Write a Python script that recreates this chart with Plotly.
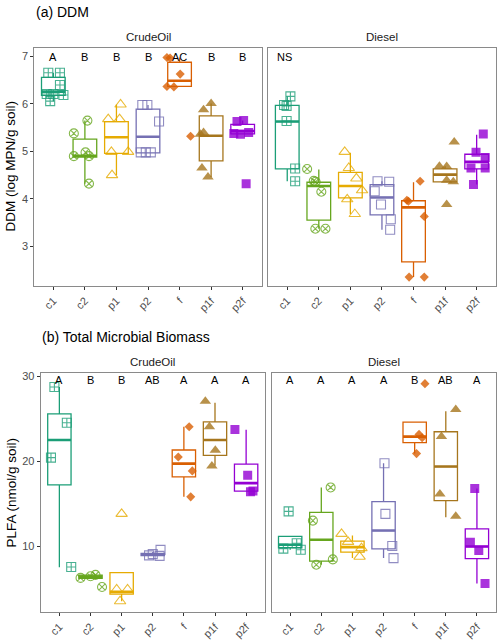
import plotly.graph_objects as go

categories = ["c1", "c2", "p1", "p2", "f", "p1f", "p2f"]

# ---- (a) DDM, CrudeOil: points and box stats [lower whisker, q1, median, q3, upper whisker]
ddm_crude_pts = [
    [6.66, 6.66, 6.40, 6.21, 6.21, 6.19, 6.06],
    [5.65, 5.38, 4.98, 4.90, 4.90, 4.32],
    [5.99, 5.68, 5.68, 4.99, 4.99, 4.50],
    [5.98, 5.98, 5.63, 4.98, 4.98, 4.98],
    [6.98, 6.97, 6.63, 6.37, 6.36, 5.32],
    [6.01, 5.88, 5.40, 5.36, 4.65, 4.46],
    [5.65, 5.63, 5.40, 5.38, 5.36, 4.32],
]
ddm_crude_box = [
    [6.06, 6.18, 6.26, 6.56, 6.66],
    [4.32, 4.88, 4.91, 5.26, 5.65],
    [4.50, 4.96, 5.30, 5.63, 5.99],
    [4.97, 4.97, 5.31, 5.89, 5.98],
    [6.36, 6.37, 6.49, 6.88, 6.98],
    [4.46, 4.80, 5.33, 5.75, 6.01],
    [5.36, 5.37, 5.43, 5.57, 5.65],
]
ddm_crude_letters = ["A", "B", "B", "B", "AC", "B", "B"]

# ---- (a) DDM, Diesel
ddm_diesel_pts = [
    [6.16, 5.98, 5.96, 5.64, 4.64, 4.37],
    [4.63, 4.38, 4.36, 4.15, 3.37, 3.37],
    [4.99, 4.65, 4.43, 4.18, 3.99, 3.68],
    [4.37, 4.36, 4.16, 3.88, 3.57, 3.35],
    [4.37, 3.97, 3.95, 3.63, 2.35, 2.35],
    [5.20, 4.69, 4.68, 4.39, 4.36, 3.88],
    [5.37, 4.98, 4.87, 4.65, 4.65, 4.30],
]
ddm_diesel_box = [
    [4.37, 4.63, 5.63, 5.97, 6.16],
    [3.37, 3.55, 4.27, 4.35, 4.62],
    [3.68, 4.02, 4.27, 4.56, 4.97],
    [3.35, 3.66, 4.03, 4.30, 4.37],
    [2.35, 2.67, 3.82, 3.96, 4.35],
    [4.36, 4.36, 4.51, 4.63, 4.69],
    [4.30, 4.63, 4.78, 4.94, 5.35],
]
ddm_diesel_note = "NS"

# ---- (b) Total Microbial Biomass (PLFA), CrudeOil
plfa_crude_pts = [
    [28.75, 24.53, 20.42, 7.53],
    [6.60, 6.45, 6.25, 5.18],
    [13.80, 4.88, 4.88, 3.50],
    [9.55, 9.05, 8.90, 8.85],
    [24.06, 20.50, 18.86, 15.80],
    [27.07, 24.06, 21.30, 19.45],
    [23.75, 18.36, 16.40, 16.50],
]
plfa_crude_box = [
    [7.50, 17.22, 22.50, 25.58, 28.75],
    [6.15, 6.20, 6.40, 6.58, 6.62],
    [3.50, 4.33, 4.60, 6.87, 6.87],
    [8.85, 8.88, 9.00, 9.15, 9.30],
    [15.80, 18.16, 19.72, 21.32, 24.06],
    [19.50, 20.70, 22.50, 24.64, 26.90],
    [16.40, 16.48, 17.42, 19.65, 23.70],
]
plfa_crude_letters = ["A", "B", "B", "AB", "A", "A", "A"]

# ---- (b) PLFA, Diesel
plfa_diesel_pts = [
    [14.09, 10.34, 9.70, 9.57],
    [16.91, 13.00, 7.80, 8.43],
    [11.44, 10.50, 9.76, 8.75],
    [19.76, 13.79, 10.00, 8.58],
    [29.14, 23.16, 22.77, 20.90],
    [26.10, 22.90, 16.13, 13.50],
    [16.79, 10.46, 9.49, 5.58],
]
plfa_diesel_box = [
    [9.57, 9.80, 10.15, 11.15, 11.15],
    [7.80, 8.23, 10.74, 13.97, 16.90],
    [8.60, 9.29, 9.87, 10.58, 11.24],
    [8.58, 9.68, 11.83, 15.23, 19.76],
    [20.90, 22.20, 22.90, 24.60, 24.60],
    [13.40, 15.35, 19.37, 23.47, 25.90],
    [5.58, 8.51, 9.95, 12.03, 16.79],
]
plfa_diesel_letters = ["A", "A", "A", "A", "B", "AB", "A"]

# ---- horizontal jitter offsets (display only, category units)
ddm_crude_jit = [
    [-0.16, 0.21, 0.21, -0.21, 0.0, 0.32, -0.10],
    [0.08, -0.35, 0.02, -0.35, 0.13, 0.13],
    [0.13, -0.26, 0.10, -0.16, 0.37, -0.14],
    [-0.18, -0.02, 0.35, -0.23, -0.07, 0.09],
    [-0.40, -0.30, 0.02, -0.40, -0.18, 0.35],
    [0.0, -0.24, -0.24, -0.34, -0.29, -0.10],
    [0.03, -0.18, 0.19, -0.28, -0.07, 0.11],
]
ddm_diesel_jit = [
    [0.10, -0.10, -0.02, -0.02, 0.25, 0.25],
    [-0.37, -0.16, -0.10, 0.08, -0.11, 0.21],
    [-0.18, -0.05, 0.19, 0.37, -0.10, 0.14],
    [-0.14, 0.23, -0.23, -0.03, 0.28, 0.26],
    [0.21, -0.21, -0.16, 0.34, -0.14, 0.34],
    [0.29, -0.18, 0.05, 0.05, 0.26, 0.05],
    [0.21, -0.02, 0.27, -0.18, 0.27, -0.10],
]
plfa_crude_jit = [
    [-0.16, 0.24, -0.27, 0.38],
    [0.16, 0.0, -0.32, 0.37],
    [0.0, -0.16, 0.19, -0.05],
    [0.25, 0.0, -0.12, 0.22],
    [0.17, -0.18, 0.27, 0.22],
    [-0.31, -0.18, 0.01, -0.10],
    [-0.36, 0.05, 0.14, 0.22],
]
plfa_diesel_jit = [
    [-0.05, 0.21, -0.22, 0.34],
    [0.30, -0.27, -0.16, 0.37],
    [-0.35, -0.14, 0.29, 0.23],
    [0.03, 0.06, 0.28, 0.32],
    [0.33, 0.14, 0.24, 0.06],
    [0.32, -0.14, -0.19, 0.32],
    [-0.07, -0.21, 0.06, 0.26],
]

# ---- styles
colors = ["#1B9E77", "#66A61E", "#E6AB02", "#7570B3", "#D95F02", "#A6761D", "#9400D3"]
symbols = ["square-cross-open", "circle-x-open", "triangle-up-open", "square-open",
           "diamond", "triangle-up", "square"]
msizes = [9, 9, 10, 9, 7, 10, 9]
BOXW = 0.75
FONT = "Liberation Sans, Arial, sans-serif"
W, H = 500, 641

fig = go.Figure()

panels = [
    (ddm_crude_pts, ddm_crude_jit, ddm_crude_box, "x", "y"),
    (ddm_diesel_pts, ddm_diesel_jit, ddm_diesel_box, "x2", "y2"),
    (plfa_crude_pts, plfa_crude_jit, plfa_crude_box, "x3", "y3"),
    (plfa_diesel_pts, plfa_diesel_jit, plfa_diesel_box, "x4", "y4"),
]

for pts, jit, box, xa, ya in panels:
    for i, cat in enumerate(categories):
        c = colors[i]
        lo, q1, med, q3, hi = box[i]
        fig.add_trace(go.Box(
            x=[i], q1=[q1], median=[med], q3=[q3], lowerfence=[lo], upperfence=[hi],
            width=BOXW, whiskerwidth=0, boxpoints=False,
            line=dict(color=c, width=1.3), fillcolor="rgba(255,255,255,0)",
            xaxis=xa, yaxis=ya, showlegend=False, hoverinfo="skip"))
        fig.add_trace(go.Scatter(
            x=[i - BOXW / 2, i + BOXW / 2], y=[med, med], mode="lines",
            line=dict(color=c, width=2.6), xaxis=xa, yaxis=ya,
            showlegend=False, hoverinfo="skip"))
    for i, cat in enumerate(categories):
        c = colors[i]
        filled = not symbols[i].endswith("open")
        fig.add_trace(go.Scatter(
            x=[i + j for j in jit[i]], y=pts[i], mode="markers",
            marker=dict(symbol=symbols[i], size=msizes[i], color=c, opacity=0.8,
                        line=dict(color=c, width=0 if filled else 1.1)),
            xaxis=xa, yaxis=ya, showlegend=False, hoverinfo="skip"))

def px_x(a, b):
    return [a / W, b / W]

def px_y(top, bottom):
    return [1 - bottom / H, 1 - top / H]

border = "#8A8A8A"
tickc = "#333333"
tickfont = dict(family=FONT, size=11, color="#4D4D4D")

def xax(domain, anchor):
    return dict(domain=domain, anchor=anchor, range=[-0.6, 6.6], tickmode="array",
                tickvals=list(range(len(categories))), ticktext=categories, tickangle=-45,
                showline=True, mirror=True, linecolor=border, linewidth=1.1,
                ticks="outside", ticklen=3, tickcolor=tickc, tickwidth=1,
                tickfont=tickfont, showgrid=False, zeroline=False)

def yax(domain, anchor, rng, tickvals, labels=True):
    d = dict(domain=domain, anchor=anchor, range=rng, showline=True, mirror=True,
             linecolor=border, linewidth=1.1, showgrid=False, zeroline=False)
    if labels:
        d.update(tickmode="array", tickvals=tickvals, ticks="outside", ticklen=3,
                 tickcolor=tickc, tickwidth=1, tickfont=tickfont)
    else:
        d.update(showticklabels=False, ticks="")
    return d

top_y = px_y(45.7, 285)
bot_y = px_y(371.7, 612)
ddm_range = [2.16, 7.19]
plfa_range = [2.22, 30.45]

fig.update_layout(
    width=W, height=H, autosize=False,
    margin=dict(l=0, r=0, t=0, b=0),
    paper_bgcolor="white", plot_bgcolor="white",
    boxmode="overlay",
    font=dict(family=FONT),
    xaxis=xax(px_x(34.4, 261.6), "y"),
    xaxis2=xax(px_x(268.3, 495.6), "y2"),
    xaxis3=xax(px_x(40.7, 264.8), "y3"),
    xaxis4=xax(px_x(271.5, 495.6), "y4"),
    yaxis=yax(top_y, "x", ddm_range, [3, 4, 5, 6, 7]),
    yaxis2=yax(top_y, "x2", ddm_range, [3, 4, 5, 6, 7], labels=False),
    yaxis3=yax(bot_y, "x3", plfa_range, [10, 20, 30]),
    yaxis4=yax(bot_y, "x4", plfa_range, [10, 20, 30], labels=False),
)

ann = []
letter_font = dict(family=FONT, size=11, color="black")
for i, t in enumerate(ddm_crude_letters):
    ann.append(dict(x=i, y=7.0, xref="x", yref="y", text=t, showarrow=False,
                    font=letter_font, xanchor="center", yanchor="middle"))
ann.append(dict(x=-0.1, y=7.0, xref="x2", yref="y2", text=ddm_diesel_note, showarrow=False,
                font=letter_font, xanchor="center", yanchor="middle"))
for i, t in enumerate(plfa_crude_letters):
    ann.append(dict(x=i, y=29.6, xref="x3", yref="y3", text=t, showarrow=False,
                    font=letter_font, xanchor="center", yanchor="middle"))
for i, t in enumerate(plfa_diesel_letters):
    ann.append(dict(x=i, y=29.6, xref="x4", yref="y4", text=t, showarrow=False,
                    font=letter_font, xanchor="center", yanchor="middle"))

strip_font = dict(family=FONT, size=11.5, color="#1A1A1A")
ann += [
    dict(x=148 / W, y=1 - 35 / H, xref="paper", yref="paper", text="CrudeOil",
         showarrow=False, font=strip_font, xanchor="center", yanchor="middle"),
    dict(x=382 / W, y=1 - 35 / H, xref="paper", yref="paper", text="Diesel",
         showarrow=False, font=strip_font, xanchor="center", yanchor="middle"),
    dict(x=152.7 / W, y=1 - 361.5 / H, xref="paper", yref="paper", text="CrudeOil",
         showarrow=False, font=strip_font, xanchor="center", yanchor="middle"),
    dict(x=383.5 / W, y=1 - 361.5 / H, xref="paper", yref="paper", text="Diesel",
         showarrow=False, font=strip_font, xanchor="center", yanchor="middle"),
]
title_font = dict(family=FONT, size=14, color="black")
ann += [
    dict(x=34 / W, y=1 - 10 / H, xref="paper", yref="paper", text="(a) DDM",
         showarrow=False, font=title_font, xanchor="left", yanchor="middle"),
    dict(x=40 / W, y=1 - 336 / H, xref="paper", yref="paper", text="(b) Total Microbial Biomass",
         showarrow=False, font=title_font, xanchor="left", yanchor="middle"),
]
axis_title_font = dict(family=FONT, size=13.5, color="black")
ann += [
    dict(x=10 / W, y=1 - 165 / H, xref="paper", yref="paper", text="DDM (log MPN/g soil)",
         textangle=-90, showarrow=False, font=axis_title_font, xanchor="center", yanchor="middle"),
    dict(x=11 / W, y=1 - 492 / H, xref="paper", yref="paper", text="PLFA (nmol/g soil)",
         textangle=-90, showarrow=False, font=axis_title_font, xanchor="center", yanchor="middle"),
]
fig.update_layout(annotations=ann)

fig.write_html(
    "out.html",
    config={"displayModeBar": False},
    post_script="document.body.style.margin='0';document.body.style.padding='0';"
                "document.body.style.overflow='hidden';",
)
